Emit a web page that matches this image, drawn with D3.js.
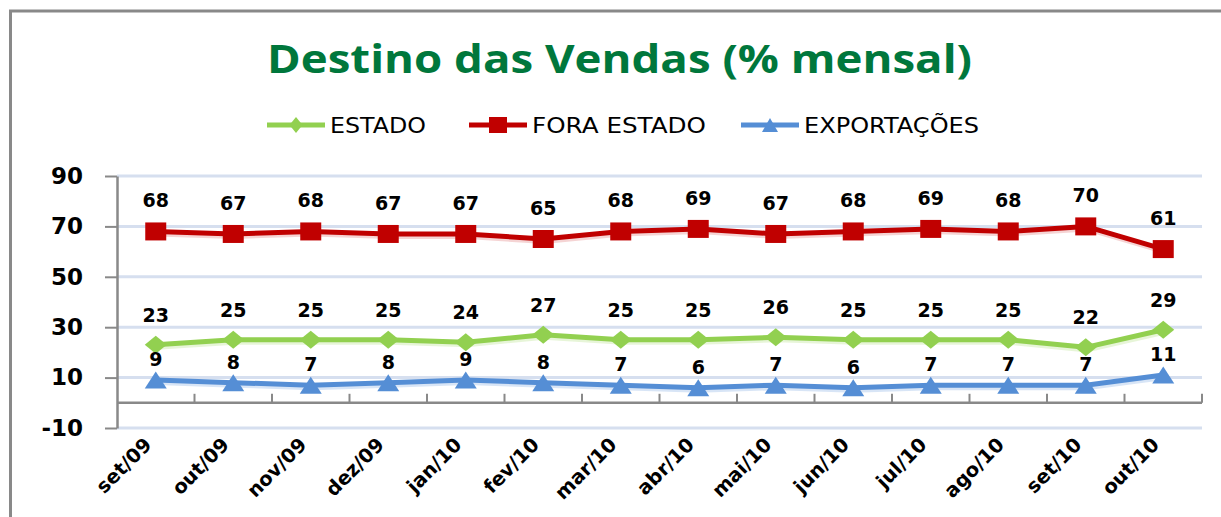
<!DOCTYPE html>
<html>
<head>
<meta charset="utf-8">
<script src="https://cdn.jsdelivr.net/npm/d3@7"></script>
<style>
  body { margin: 0; background: #fff; }
  svg { display: block; }
</style>
</head>
<body>
<svg id="chart"></svg>
<script>
// data
const months = ["set/09", "out/09", "nov/09", "dez/09", "jan/10", "fev/10", "mar/10",
    "abr/10", "mai/10", "jun/10", "jul/10", "ago/10", "set/10", "out/10"];
const estado = [23, 25, 25, 25, 24, 27, 25, 25, 26, 25, 25, 25, 22, 29];
const foraEstado = [68, 67, 68, 67, 67, 65, 68, 69, 67, 68, 69, 68, 70, 61];
const exportacoes = [9, 8, 7, 8, 9, 8, 7, 6, 7, 6, 7, 7, 7, 11];
const yTicks = [-10, 10, 30, 50, 70, 90];

const series = [
    { name: "ESTADO", values: estado, color: "#92D050", shadow: "#C9E8A8", marker: "diamond", labelDy: -23 },
    { name: "FORA ESTADO", values: foraEstado, color: "#C00000", shadow: "#E8A0A0", marker: "square", labelDy: -24 },
    { name: "EXPORTAÇÕES", values: exportacoes, color: "#558ED5", shadow: "#A9C6EC", marker: "triangle", labelDy: -14 }
];

const config = {
    width: 1221,
    height: 517,
    plot: { left: 117, right: 1202, top: 176, bottom: 428 },
    gridColor: "#D6DFEF",
    axisColor: "#898989"
};

const svg = d3.select("#chart")
    .attr("width", config.width)
    .attr("height", config.height);

// outer chart border (runs off the right and bottom edge like the source)
svg.append("rect")
    .attr("x", 10.5).attr("y", 11)
    .attr("width", 1400).attr("height", 700)
    .attr("fill", "none")
    .attr("stroke", config.axisColor)
    .attr("stroke-width", 3);

// title (source is stretched horizontally, so widen the text to fit)
svg.append("text")
    .attr("x", 267).attr("y", 73)
    .attr("textLength", 705)
    .attr("lengthAdjust", "spacingAndGlyphs")
    .style("font-family", "'Open Sans', sans-serif")
    .style("font-weight", 700)
    .style("font-size", "39px")
    .style("fill", "#00773C")
    .text("Destino das Vendas (% mensal)");

// scales
const x = d3.scaleBand()
    .domain(months)
    .range([config.plot.left, config.plot.right])
    .padding(0);
const cx = d => x(d) + x.bandwidth() / 2;

const y = d3.scaleLinear()
    .domain([-10, 90])
    .range([config.plot.bottom, config.plot.top]);

// marker shapes
function drawMarker(g, kind, color, px, py, w, h) {
    let path;
    if (kind === "diamond") {
        path = `M${px},${py - h / 2}L${px + w / 2},${py}L${px},${py + h / 2}L${px - w / 2},${py}Z`;
    } else if (kind === "square") {
        path = `M${px - w / 2},${py - h / 2}h${w}v${h}h${-w}Z`;
    } else {
        path = `M${px},${py - h / 2}L${px + w / 2},${py + h / 2}L${px - w / 2},${py + h / 2}Z`;
    }
    g.append("path").attr("d", path).attr("fill", color);
}

// gridlines
svg.append("g")
    .attr("class", "grid")
    .selectAll("line")
    .data(yTicks)
    .join("line")
    .attr("x1", config.plot.left)
    .attr("x2", config.plot.right)
    .attr("y1", d => y(d))
    .attr("y2", d => y(d))
    .attr("stroke", config.gridColor)
    .attr("stroke-width", 3);

// y axis
const yAxis = d3.axisLeft(y)
    .tickValues(yTicks)
    .tickSizeInner(12)
    .tickSizeOuter(0)
    .tickPadding(22)
    .tickFormat(d => String(d));

const yAxisG = svg.append("g")
    .attr("class", "axis y-axis")
    .attr("transform", `translate(${config.plot.left},0)`)
    .call(yAxis);
yAxisG.select(".domain").attr("stroke", config.axisColor).attr("stroke-width", 2.5);
yAxisG.selectAll(".tick line").attr("stroke", config.axisColor).attr("stroke-width", 2);
yAxisG.selectAll(".tick text")
    .style("font-family", "'DejaVu Sans', sans-serif")
    .style("font-weight", 700)
    .style("font-size", "23px")
    .style("fill", "#000");

// category axis at value 0, tick marks on band boundaries
const xAxisG = svg.append("g").attr("class", "axis x-axis");
xAxisG.append("line")
    .attr("x1", config.plot.left).attr("x2", config.plot.right)
    .attr("y1", y(0)).attr("y2", y(0))
    .attr("stroke", config.axisColor)
    .attr("stroke-width", 2.5);
xAxisG.selectAll(".xtick")
    .data(months.slice(1).map(m => x(m)).concat([x.range()[1]]))
    .join("line")
    .attr("class", "xtick")
    .attr("x1", d => d).attr("x2", d => d)
    .attr("y1", y(0)).attr("y2", y(0) - 9)
    .attr("stroke", config.axisColor)
    .attr("stroke-width", 2);

// category labels, rotated
svg.append("g")
    .attr("class", "x-labels")
    .selectAll("text")
    .data(months)
    .join("text")
    .attr("transform", d => `translate(${cx(d) - 3},446) rotate(-45)`)
    .attr("text-anchor", "end")
    .style("font-family", "'DejaVu Sans', sans-serif")
    .style("font-weight", 700)
    .style("font-size", "19.5px")
    .style("fill", "#000")
    .text(d => d);

// lines
const line = d3.line()
    .x((d, i) => cx(months[i]))
    .y(d => y(d));

const linesG = svg.append("g").attr("class", "lines");
series.forEach(s => {
    linesG.append("path")
        .attr("d", line(s.values))
        .attr("transform", "translate(1,3)")
        .attr("fill", "none")
        .attr("stroke", s.shadow)
        .attr("stroke-width", 4)
        .attr("opacity", 0.45);
});
series.forEach(s => {
    linesG.append("path")
        .attr("d", line(s.values))
        .attr("fill", "none")
        .attr("stroke", s.color)
        .attr("stroke-width", 5)
        .attr("stroke-linejoin", "round");
});

// markers
const markersG = svg.append("g").attr("class", "markers");
series.forEach(s => {
    s.values.forEach((v, i) => {
        const px = cx(months[i]), py = y(v);
        if (s.marker === "diamond") drawMarker(markersG, "diamond", s.color, px, py, 22, 18);
        else if (s.marker === "square") drawMarker(markersG, "square", s.color, px, py, 21, 18);
        else drawMarker(markersG, "triangle", s.color, px, py, 22, 17);
    });
});

// data labels
const labelsG = svg.append("g").attr("class", "labels");
series.forEach(s => {
    labelsG.selectAll(null)
        .data(s.values)
        .join("text")
        .attr("x", (d, i) => cx(months[i]))
        .attr("y", d => y(d) + s.labelDy)
        .attr("text-anchor", "middle")
        .style("font-family", "'DejaVu Sans', sans-serif")
        .style("font-weight", 700)
        .style("font-size", "19px")
        .style("fill", "#000")
        .text(d => d);
});

// legend
const legendItems = [
    { s: series[0], x: 267, textWidth: 96 },
    { s: series[1], x: 469, textWidth: 174 },
    { s: series[2], x: 741, textWidth: 175 }
];
const legend = svg.append("g").attr("class", "legend");
legendItems.forEach(item => {
    const g = legend.append("g");
    g.append("line")
        .attr("x1", item.x).attr("x2", item.x + 58)
        .attr("y1", 125).attr("y2", 125)
        .attr("stroke", item.s.color)
        .attr("stroke-width", 5);
    const mx = item.x + 29;
    if (item.s.marker === "diamond") drawMarker(g, "diamond", item.s.color, mx, 125, 13, 16);
    else if (item.s.marker === "square") drawMarker(g, "square", item.s.color, mx, 125, 18, 16);
    else drawMarker(g, "triangle", item.s.color, mx, 125, 16, 14);
    g.append("text")
        .attr("x", item.x + 63)
        .attr("y", 133)
        .attr("textLength", item.textWidth)
        .attr("lengthAdjust", "spacingAndGlyphs")
        .style("font-family", "'DejaVu Sans', sans-serif")
        .style("font-size", "21px")
        .style("fill", "#000")
        .text(item.s.name);
});
</script>
</body>
</html>
